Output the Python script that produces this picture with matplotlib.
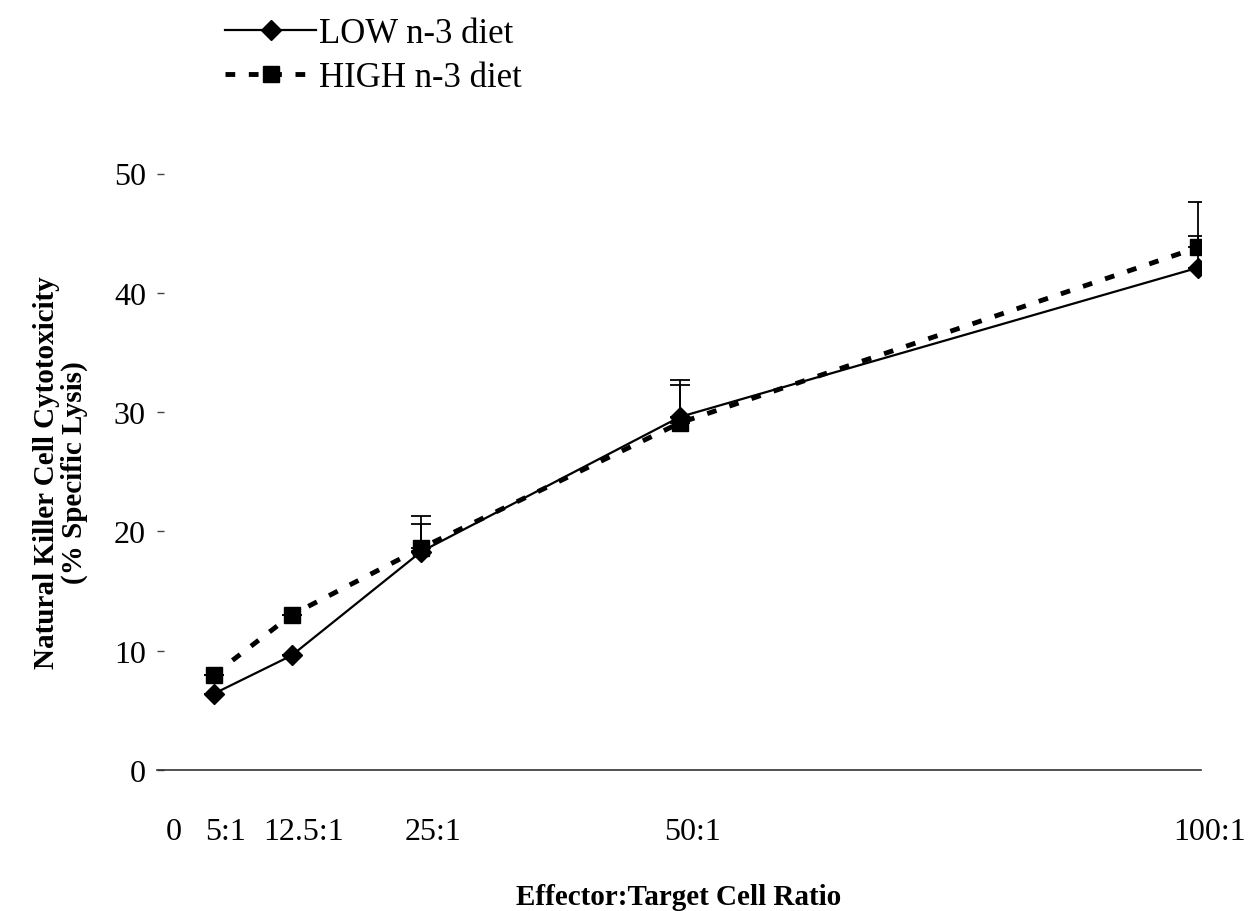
import numpy
from matplotlib import pyplot as plt
from matplotlib import transforms

plt.rcParams['font.family'] = ['Liberation Serif', 'DejaVu Serif']

# ----------
# Data

ratio = [5, 12.5, 25, 50, 100]
low_n3 = [6.4, 9.6, 18.3, 29.6, 42.1]
high_n3 = [8.0, 13.0, 18.6, 29.1, 43.8]
low_err = [0, 0, 2.3, 2.7, 2.7]
high_err = [0, 0, 2.7, 3.6, 3.8]

tick_pos = [0, 5, 12.5, 25, 50, 100]
tick_labels = ['0', '5:1', '12.5:1', '25:1', '50:1', '100:1']

# ----------
# Figure

fig = plt.figure(figsize=(12.59, 9.12), dpi=100)
axes = fig.add_axes([157/1259, 141/912, 1044/1259, 596.5/912])

axes.errorbar(ratio, high_n3, yerr=[numpy.zeros(5), high_err], fmt='none',
              ecolor='black', elinewidth=1.3, capsize=7, capthick=1.3)
axes.errorbar(ratio, low_n3, yerr=[numpy.zeros(5), low_err], fmt='none',
              ecolor='black', elinewidth=1.3, capsize=7, capthick=1.3)

axes.plot(ratio, low_n3, color='black', lw=1.6, marker='D', ms=10,
          label='LOW n-3 diet')
axes.plot(ratio, high_n3, color='black', lw=3.5, dashes=(2.0, 2.8),
          marker='s', ms=12, label='HIGH n-3 diet')

axes.set_xlim(-0.5, 100.3)
axes.set_ylim(0, 50)

for side in ['left', 'right', 'top']:
    axes.spines[side].set_visible(False)
axes.spines['bottom'].set_color('#333333')
axes.spines['bottom'].set_linewidth(1.2)

axes.set_yticks(range(0, 51, 10))
axes.tick_params(axis='y', direction='in', length=5, width=1, pad=8,
                 labelsize=23, color='#444444')

axes.set_xticks(tick_pos)
axes.set_xticklabels(tick_labels)
axes.tick_params(axis='x', length=0, pad=34, labelsize=23)
shift = transforms.ScaledTranslation(12/100, 0, fig.dpi_scale_trans)
for lab in axes.get_xticklabels():
    lab.set_transform(lab.get_transform() + shift)

axes.set_xlabel('Effector:Target Cell Ratio', fontsize=21, fontweight='bold')
axes.xaxis.set_label_coords(0.5, -0.19)
axes.set_ylabel('Natural Killer Cell Cytotoxicity\n(% Specific Lysis)',
                fontsize=21, fontweight='bold', linespacing=1.05)
axes.yaxis.set_label_coords(-0.066, 0.5)

fig.legend(loc='upper left', bbox_to_anchor=(208/1259, 1 - 1/912),
           frameon=False, fontsize=25, handlelength=2.6, handletextpad=0.1,
           labelspacing=0.3, borderpad=0)

fig.savefig('out.png', dpi=100)
